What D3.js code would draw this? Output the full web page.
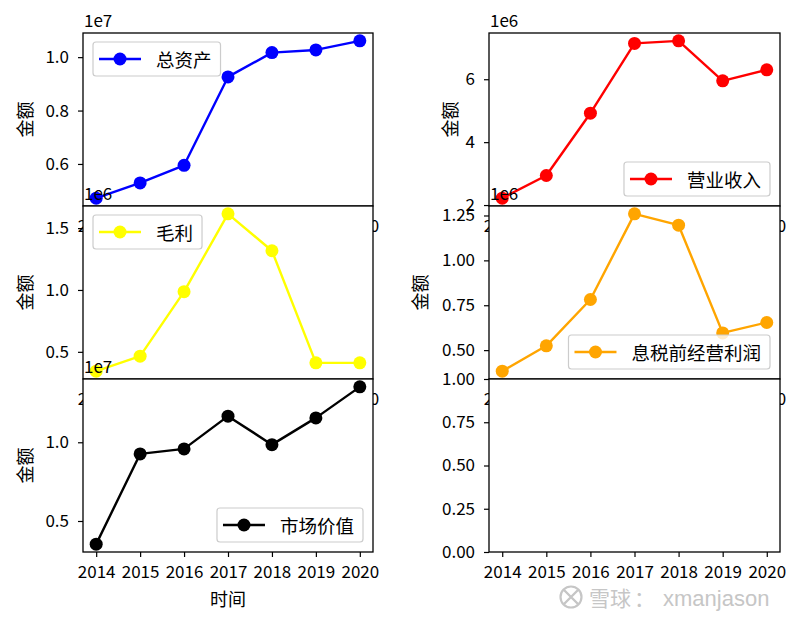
<!DOCTYPE html>
<html><head><meta charset="utf-8">
<script src="https://cdn.jsdelivr.net/npm/d3@7"></script>
<style>
body{margin:0;background:#fff}
svg{display:block}
text{font-family:"Noto Sans CJK SC","Noto Sans",sans-serif;fill:#000}
</style>
</head><body><svg id="c" width="800" height="622"></svg>
<script>
// ---------- data ----------
const years = [2014, 2015, 2016, 2017, 2018, 2019, 2020];
const totalAssets = [4.72e6, 5.29e6, 5.95e6, 9.26e6, 10.17e6, 10.27e6, 10.61e6];
const revenue = [2.22e6, 2.94e6, 4.92e6, 7.14e6, 7.22e6, 5.95e6, 6.30e6];
const grossProfit = [0.344e6, 0.465e6, 0.986e6, 1.615e6, 1.317e6, 0.411e6, 0.411e6];
const ebit = [0.383e6, 0.524e6, 0.782e6, 1.259e6, 1.196e6, 0.596e6, 0.654e6];
const marketValue = [0.353e7, 0.926e7, 0.958e7, 1.166e7, 0.985e7, 1.155e7, 1.352e7];
const seriesNames = ["总资产", "营业收入", "毛利", "息税前经营利润", "市场价值"];
const seriesValues = [totalAssets, revenue, grossProfit, ebit, marketValue];
const seriesColors = ["#0000ff", "#ff0000", "#ffff00", "#ffa500", "#000000"];
const yTickValues = [
  [0.6e7, 0.8e7, 1.0e7],
  [2e6, 4e6, 6e6],
  [0.5e6, 1.0e6, 1.5e6],
  [0.5e6, 0.75e6, 1.0e6, 1.25e6],
  [0.5e7, 1.0e7],
  [0, 0.25, 0.5, 0.75, 1.0]
];
const yTickLabels = [
  ["0.6", "0.8", "1.0"],
  ["2", "4", "6"],
  ["0.5", "1.0", "1.5"],
  ["0.50", "0.75", "1.00", "1.25"],
  ["0.5", "1.0"],
  ["0.00", "0.25", "0.50", "0.75", "1.00"]
];
const offsetLabels = ["1e7", "1e6", "1e6", "1e6", "1e7", ""];
const yLabelText = "金额";
const xLabelText = "时间";

// ---------- layout ----------
const colX = [[83, 373], [489, 780]];
const rowY = [[33, 206], [206, 379], [379, 552]];
const legendLoc = ["upper left", "lower right", "upper left", "lower right", "lower right"];
const yLabelGap = [59, 40, 59, 70, 59, null];

const svg = d3.select("#c");
const defs = svg.append("defs");

for (let i = 0; i < 6; i++) {
  const col = i % 2, row = Math.floor(i / 2);
  const [x0, x1] = colX[col], [y0, y1] = rowY[row];
  const vals = seriesValues[i];

  const x = d3.scaleLinear().domain([years[0] - 0.3, years[years.length - 1] + 0.3]).range([x0, x1]);
  let yDom = [0, 1];
  if (vals) {
    const mn = d3.min(vals), mx = d3.max(vals), sp = mx - mn;
    yDom = [mn - 0.05 * sp, mx + 0.05 * sp];
  }
  const y = d3.scaleLinear().domain(yDom).range([y1, y0]);

  const g = svg.append("g");
  g.append("rect").attr("x", x0).attr("y", y0).attr("width", x1 - x0).attr("height", y1 - y0).attr("fill", "#fff");

  defs.append("clipPath").attr("id", "clip" + i)
    .append("rect").attr("x", x0).attr("y", y0).attr("width", x1 - x0).attr("height", y1 - y0);

  if (vals) {
    const data = years.map((yr, k) => ({yr, v: vals[k]}));
    const pg = g.append("g").attr("clip-path", `url(#clip${i})`);
    pg.append("path").datum(data)
      .attr("fill", "none").attr("stroke", seriesColors[i]).attr("stroke-width", 2.4)
      .attr("stroke-linejoin", "round")
      .attr("d", d3.line().x(d => x(d.yr)).y(d => y(d.v)));
    pg.selectAll("circle").data(data).join("circle")
      .attr("cx", d => x(d.yr)).attr("cy", d => y(d.v)).attr("r", 6.5)
      .attr("fill", seriesColors[i]);
  }

  // spines
  g.append("rect").attr("x", x0).attr("y", y0).attr("width", x1 - x0).attr("height", y1 - y0)
    .attr("fill", "none").attr("stroke", "#000").attr("stroke-width", 1.3);

  // x axis
  const xa = g.append("g").attr("transform", `translate(0,${y1})`)
    .call(d3.axisBottom(x).tickValues(years).tickFormat(d3.format("d")).tickSize(5).tickPadding(9));
  xa.select(".domain").remove();
  xa.selectAll("line").attr("stroke", "#000").attr("stroke-width", 1.2);
  xa.selectAll("text").attr("font-size", 17).attr("font-family", "'Noto Sans CJK SC'").attr("fill", "#000");

  // y axis
  const labs = yTickLabels[i];
  const ya = g.append("g").attr("transform", `translate(${x0},0)`)
    .call(d3.axisLeft(y).tickValues(yTickValues[i]).tickFormat((d, k) => labs[k]).tickSize(5).tickPadding(9));
  ya.select(".domain").remove();
  ya.selectAll("line").attr("stroke", "#000").attr("stroke-width", 1.2);
  ya.selectAll("text").attr("font-size", 17).attr("font-family", "'Noto Sans CJK SC'").attr("fill", "#000");

  // offset text
  if (offsetLabels[i]) {
    g.append("text").attr("x", x0 + 1).attr("y", y0 - 6).attr("font-size", 17).text(offsetLabels[i]);
  }

  // y label
  if (yLabelGap[i] !== null) {
    const cx = x0 - yLabelGap[i], cy = (y0 + y1) / 2;
    g.append("text").attr("transform", `translate(${cx},${cy}) rotate(-90)`)
      .attr("text-anchor", "middle").attr("dominant-baseline", "central")
      .attr("font-size", 18).text(yLabelText);
  }

  // x label on bottom-left
  if (i === 4) {
    g.append("text").attr("x", (x0 + x1) / 2).attr("y", y1 + 54)
      .attr("text-anchor", "middle").attr("font-size", 18).text(xLabelText);
  }

  // legend
  if (vals) {
    const lg = g.append("g");
    const t = lg.append("text").attr("font-size", 18.5).attr("dominant-baseline", "central").text(seriesNames[i]);
    const tw = t.node().getComputedTextLength();
    const bw = 63 + tw + 9, bh = 34;
    let bx, by;
    if (legendLoc[i] === "upper left") { bx = x0 + 10; by = y0 + 9; }
    else { bx = x1 - 10 - bw; by = y1 - 10 - bh; }
    lg.insert("rect", "text").attr("x", bx).attr("y", by).attr("width", bw).attr("height", bh)
      .attr("rx", 3).attr("fill", "#fff").attr("fill-opacity", 0.8)
      .attr("stroke", "#cccccc").attr("stroke-width", 1.2);
    const cy = by + bh / 2;
    lg.insert("line", "text").attr("x1", bx + 6).attr("x2", bx + 48).attr("y1", cy).attr("y2", cy)
      .attr("stroke", seriesColors[i]).attr("stroke-width", 2.4);
    lg.insert("circle", "text").attr("cx", bx + 27).attr("cy", cy).attr("r", 6.5).attr("fill", seriesColors[i]);
    t.attr("x", bx + 63).attr("y", cy);
  }
}

// ---------- watermark ----------
const wm = svg.append("g");
const wc = "#c6c6c6";
wm.append("circle").attr("cx", 571).attr("cy", 597).attr("r", 10.5).attr("fill", "none").attr("stroke", wc).attr("stroke-width", 2.2);
wm.append("path").attr("d", "M564,590 Q571,597 578,604 M578,590 Q571,597 564,604")
  .attr("fill", "none").attr("stroke", wc).attr("stroke-width", 2.4);
wm.append("text").attr("x", 589).attr("y", 606).attr("font-size", 21).style("fill", wc).text("雪球");
wm.append("text").attr("x", 634).attr("y", 606).attr("font-size", 21).style("fill", wc).text("：");
wm.append("text").attr("x", 663).attr("y", 606).attr("font-size", 22)
  .style("font-family", "'Liberation Sans',Arial,sans-serif")
  .style("fill", wc).text("xmanjason");
</script>
</body></html>
